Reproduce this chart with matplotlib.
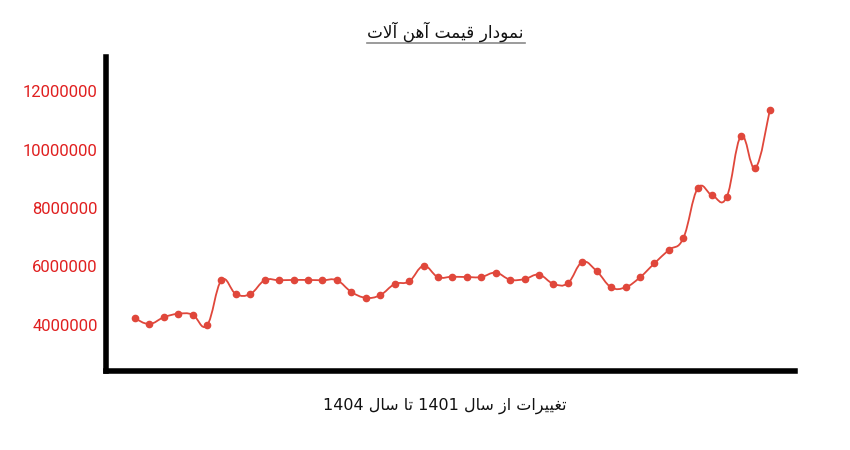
import matplotlib
matplotlib.use("Agg")
import matplotlib.pyplot as plt
from matplotlib.path import Path
from matplotlib.patches import PathPatch
import numpy as np

# ---- data ----
prices = [4215000, 4020000, 4250000, 4370000, 4340000, 3975000, 5520000, 5050000,
          5050000, 5520000, 5520000, 5530000, 5530000, 5520000, 5520000, 5120000,
          4920000, 5010000, 5390000, 5480000, 6010000, 5630000, 5640000, 5630000,
          5630000, 5780000, 5540000, 5560000, 5710000, 5400000, 5420000, 6140000,
          5830000, 5280000, 5280000, 5620000, 6100000, 6560000, 6960000, 8670000,
          8430000, 8360000, 10460000, 9370000, 11360000]
y_ticks = [4000000, 6000000, 8000000, 10000000, 12000000]
y_tick_labels = ["4000000", "6000000", "8000000", "10000000", "12000000"]

# Persian text, pre-shaped into presentation forms in visual (LTR) order
title_text = "\uFE95\uFEFB\uFE81 \uFEE6\uFEEB\uFE81 \uFE96\uFEE4\uFEF4\uFED7 \uFEAD\uFE8D\uFEA9\uFEEE\uFEE4\uFEE7"
xlabel_text = ("1404 \uFEDD\uFE8E\uFEB3 \uFE8E\uFE97 1401 \uFEDD\uFE8E\uFEB3 "
               "\uFEAF\uFE8D \uFE95\uFE8D\uFEAE\uFEF4\uFEF4\uFED0\uFE97")

red = "#e0473b"
tick_red = "#e02020"

fig = plt.figure(figsize=(8.5, 4.5), dpi=100)
ax = fig.add_axes([106 / 850, 1 - 371 / 450, (795 - 106) / 850, (371 - 57) / 450])

x = np.arange(len(prices))
yv = np.array(prices, dtype=float)

# smooth curve through the points (cubic bezier, chart-style tension)
t = 0.2
verts = [(x[0], yv[0])]
codes = [Path.MOVETO]
n = len(x)
for i in range(n - 1):
    p0 = (x[i - 1], yv[i - 1]) if i > 0 else (x[i], yv[i])
    p1 = (x[i], yv[i])
    p2 = (x[i + 1], yv[i + 1])
    p3 = (x[i + 2], yv[i + 2]) if i + 2 < n else (x[i + 1], yv[i + 1])
    c1 = (p1[0] + t * (p2[0] - p0[0]), p1[1] + t * (p2[1] - p0[1]))
    c2 = (p2[0] - t * (p3[0] - p1[0]), p2[1] - t * (p3[1] - p1[1]))
    verts += [c1, c2, p2]
    codes += [Path.CURVE4] * 3
ax.add_patch(PathPatch(Path(verts, codes), facecolor="none", edgecolor=red, lw=1.3, zorder=2))
ax.plot(x, yv, linestyle="none", marker="o", markersize=4.5, color=red, zorder=3)

ax.set_xlim(-2.0, 45.74)
ax.set_ylim(2410000, 13170000)

for s in ["top", "right"]:
    ax.spines[s].set_visible(False)
for s in ["left", "bottom"]:
    ax.spines[s].set_linewidth(4)
    ax.spines[s].set_color("black")
ax.spines["left"].set_capstyle("projecting")
ax.spines["bottom"].set_capstyle("projecting")

ax.set_xticks([])
ax.set_yticks(y_ticks)
ax.set_yticklabels(y_tick_labels)
ax.tick_params(axis="y", length=0, pad=6, labelcolor=tick_red, labelsize=12)
for lab in ax.get_yticklabels():
    lab.set_fontfamily(["Roboto", "DejaVu Sans"])

fig.text(445 / 850, 1 - 32 / 450, title_text, ha="center", va="center",
         fontsize=12.2, family=["DejaVu Sans"], color="#111111")
fig.add_artist(plt.Line2D([367 / 850, 525 / 850], [1 - 43 / 450, 1 - 43 / 450],
                          color="#8a8a8a", lw=1.2))
fig.text(445 / 850, 1 - 406 / 450, xlabel_text, ha="center", va="center",
         fontsize=11.5, family=["DejaVu Sans"], color="#111111")

fig.savefig("out.png", dpi=100)
